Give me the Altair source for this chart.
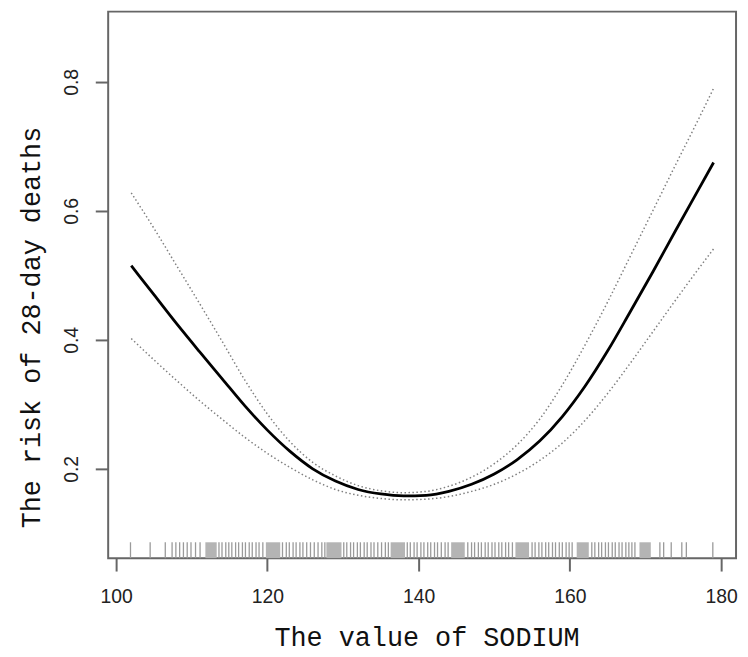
import altair as alt
import pandas as pd

# Sodium values at which the fitted curve was read
sodium = [102, 105, 108, 111, 114, 117, 120, 123, 126, 129, 132, 135, 138, 141,
          144, 147, 150, 153, 156, 159, 162, 165, 168, 171, 174, 177, 179]
# Estimated risk of 28-day death
risk = [0.515, 0.470, 0.425, 0.382, 0.340, 0.298, 0.260, 0.227, 0.200, 0.181,
        0.168, 0.161, 0.158, 0.159, 0.165, 0.176, 0.192, 0.214, 0.243, 0.281,
        0.328, 0.383, 0.444, 0.506, 0.570, 0.633, 0.675]
# 95% confidence band
upper = [0.628, 0.573, 0.515, 0.457, 0.398, 0.338, 0.285, 0.242, 0.210, 0.189,
         0.174, 0.166, 0.163, 0.165, 0.173, 0.187, 0.208, 0.237, 0.277, 0.330,
         0.392, 0.459, 0.530, 0.601, 0.672, 0.742, 0.790]
lower = [0.402, 0.369, 0.337, 0.306, 0.277, 0.249, 0.224, 0.202, 0.183, 0.168,
         0.159, 0.154, 0.152, 0.153, 0.157, 0.165, 0.176, 0.192, 0.213, 0.240,
         0.275, 0.317, 0.364, 0.413, 0.462, 0.510, 0.541]

# Rug: individual observed sodium values
rug_values = [101.9, 104.5, 106.5,
              107.4, 107.9, 108.4, 108.9, 109.4, 109.9, 110.5, 111.1,
              113.6, 114.0, 114.5, 114.9, 115.3, 115.8, 116.2, 116.7, 117.1, 117.6, 118.0, 118.5, 118.9, 119.4,
              122.0, 122.5, 122.9, 123.4, 123.8, 124.3, 124.7, 125.2, 125.7, 126.2, 126.7, 127.2, 127.6,
              130.1, 130.5, 131.0, 131.4, 131.9, 132.3, 132.8, 133.2, 133.7, 134.1, 134.6, 135.1, 135.6, 136.0,
              138.5, 138.9, 139.4, 139.8, 140.3, 140.7, 141.2, 141.6, 142.1, 142.5, 143.0, 143.5, 143.9,
              146.5, 147.0, 147.4, 147.9, 148.3, 148.8, 149.2, 149.7, 150.1, 150.6, 151.0, 151.5, 151.9, 152.4,
              155.0, 155.4, 155.9, 156.3, 156.8, 157.2, 157.7, 158.1, 158.6, 159.0, 159.5, 159.9, 160.3,
              162.9, 163.3, 163.8, 164.2, 164.7, 165.1, 165.6, 166.0, 166.5, 166.9, 167.4, 167.8, 168.2, 168.6,
              171.9, 172.4, 173.4, 174.8, 175.4, 178.9]
# Rug: stretches where ticks merge into solid grey
rug_block_start = [111.8, 119.8, 127.8, 136.3, 144.3, 152.8, 160.9, 169.2]
rug_block_end = [113.3, 121.7, 129.8, 138.2, 146.1, 154.6, 162.5, 170.7]

x_ticks = [100, 120, 140, 160, 180]
y_ticks = [0.2, 0.4, 0.6, 0.8]

curve = pd.DataFrame({"sodium": sodium, "risk": risk, "upper": upper, "lower": lower})
rug = pd.DataFrame({"sodium": rug_values})
blocks = pd.DataFrame({"start": rug_block_start, "end": rug_block_end})

W, H = 633, 551
xscale = alt.Scale(domain=[98.95, 181.97], nice=False, zero=False)
yscale = alt.Scale(domain=[0.0615, 0.909], nice=False, zero=False)

xaxis = alt.Axis(values=x_ticks, format="d", title="The value of SODIUM",
                 grid=False, domain=False, tickSize=13, tickWidth=2, tickColor="#666",
                 labelFont="Liberation Sans", labelFontSize=19.5, labelColor="#222",
                 labelPadding=17, labelBaseline="top",
                 titleFont="Liberation Mono", titleFontSize=27, titleFontWeight="normal",
                 titleColor="#111", titleX=321, titleY=88, titleAlign="center",
                 titleBaseline="alphabetic")
yaxis = alt.Axis(values=y_ticks, format=".1f", title="The risk of 28-day deaths",
                 grid=False, domain=False, tickSize=13, tickWidth=2, tickColor="#666",
                 labelFont="Liberation Sans", labelFontSize=19.5, labelColor="#222",
                 labelAngle=270, labelAlign="center", labelBaseline="alphabetic",
                 labelPadding=18,
                 titleFont="Liberation Mono", titleFontSize=27, titleFontWeight="normal",
                 titleColor="#111", titleAngle=270, titleX=-77, titleY=318,
                 titleAlign="center", titleBaseline="middle")

base = alt.Chart(curve)

est = base.mark_line(color="black", strokeWidth=2.8, interpolate="monotone").encode(
    x=alt.X("sodium:Q", scale=xscale, axis=xaxis),
    y=alt.Y("risk:Q", scale=yscale, axis=yaxis),
)
up = base.mark_line(color="#808080", strokeWidth=1.5, strokeDash=[1.5, 2.5],
                    interpolate="monotone").encode(
    x=alt.X("sodium:Q", scale=xscale),
    y=alt.Y("upper:Q", scale=yscale),
)
lo = base.mark_line(color="#808080", strokeWidth=1.5, strokeDash=[1.5, 2.5],
                    interpolate="monotone").encode(
    x=alt.X("sodium:Q", scale=xscale),
    y=alt.Y("lower:Q", scale=yscale),
)
rug_lines = alt.Chart(rug).mark_rule(color="#9a9a9a", strokeWidth=1.3).encode(
    x=alt.X("sodium:Q", scale=xscale),
    y=alt.value(H - 16),
    y2=alt.value(H),
)
rug_blocks = alt.Chart(blocks).mark_rect(color="#b4b4b4").encode(
    x=alt.X("start:Q", scale=xscale),
    x2="end:Q",
    y=alt.value(H - 16),
    y2=alt.value(H),
)

chart = alt.layer(rug_blocks, rug_lines, up, lo, est).properties(
    width=W, height=H,
    autosize="none",
    padding={"left": 101, "top": 1, "right": 4, "bottom": 96},
    background="white",
).configure_view(stroke="#666", strokeWidth=2)

chart.save("out.html", embed_options={"renderer": "svg", "actions": False})
